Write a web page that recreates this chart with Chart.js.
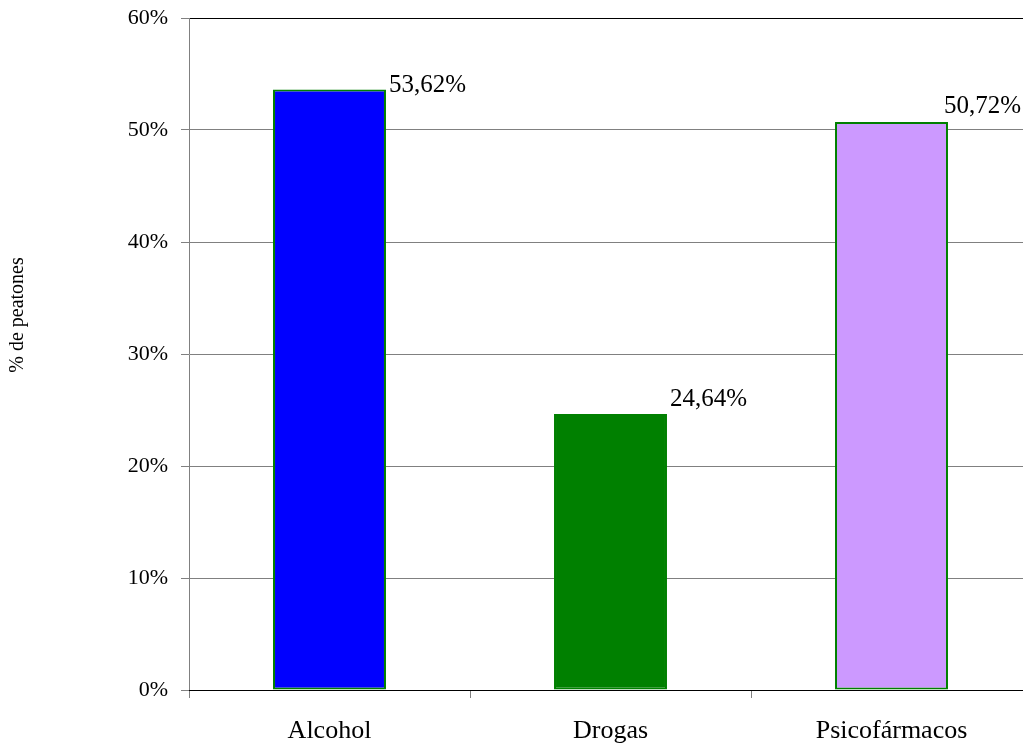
<!DOCTYPE html>
<html>
<head>
<meta charset="utf-8">
<script src="https://cdn.jsdelivr.net/npm/chart.js@4/dist/chart.umd.min.js"></script>
<style>
    html, body { margin: 0; padding: 0; background: #ffffff; overflow: hidden; }
    #wrap { width: 1032px; height: 746px; }
</style>
</head>
<body>
<div id="wrap"><canvas id="chart"></canvas></div>
<script>
// Datos del gráfico
const categorias = ['Alcohol', 'Drogas', 'Psicofármacos'];
const porcentajes = [53.62, 24.64, 50.72];
const coloresBarras = ['#0000ff', '#008000', '#cc99ff'];
const ticksY = [0, 10, 20, 30, 40, 50, 60];

const serif = '"Liberation Serif", "Times New Roman", serif';

function formatoPct(v) {
    return v.toFixed(2).replace('.', ',') + '%';
}

// Etiquetas de valor junto a cada barra
const etiquetasPlugin = {
    id: 'etiquetas',
    afterDatasetsDraw(chart) {
        const ctx = chart.ctx;
        const meta = chart.getDatasetMeta(0);
        const limite = Math.min(window.innerWidth, chart.width);
        ctx.save();
        ctx.font = '25px ' + serif;
        ctx.fillStyle = '#000000';
        ctx.textBaseline = 'middle';
        ctx.textAlign = 'left';
        meta.data.forEach((bar, i) => {
            const texto = formatoPct(porcentajes[i]);
            const w = ctx.measureText(texto).width;
            let x = bar.x + bar.width / 2 + 3;
            x = Math.min(x, limite - 2 - w);
            let y = Math.max(bar.y - 15, chart.chartArea.top + 67);
            ctx.fillText(texto, x, y);
        });
        ctx.restore();
    }
};

// Título del eje Y (desplazado como en el original)
const tituloEjePlugin = {
    id: 'tituloEje',
    afterDraw(chart) {
        const ctx = chart.ctx;
        ctx.save();
        ctx.font = '20px ' + serif;
        ctx.fillStyle = '#000000';
        ctx.textAlign = 'center';
        ctx.textBaseline = 'middle';
        ctx.translate(18, 315);
        ctx.rotate(-Math.PI / 2);
        ctx.fillText('% de peatones', 0, 0);
        ctx.restore();
    }
};

const ctx = document.getElementById('chart').getContext('2d');
new Chart(ctx, {
    type: 'bar',
    data: {
        labels: categorias,
        datasets: [{
            data: porcentajes,
            backgroundColor: coloresBarras,
            borderColor: '#008000',
            borderWidth: 2,
            borderSkipped: false,
            barPercentage: 0.402,
            categoryPercentage: 1
        }]
    },
    options: {
        responsive: true,
        maintainAspectRatio: false,
        animation: false,
        layout: { padding: { top: 18, right: 0, left: 0, bottom: 0 } },
        plugins: {
            legend: { display: false },
            tooltip: { enabled: false }
        },
        scales: {
            y: {
                min: 0,
                max: 60,
                afterBuildTicks(scale) {
                    scale.ticks = ticksY.map(v => ({ value: v }));
                },
                afterFit(scale) {
                    scale.width = 189;
                    scale.paddingTop = 0;
                    scale.paddingBottom = 0;
                },
                border: { color: '#808080', width: 1 },
                grid: {
                    color: c => (c.tick && (c.tick.value === 60 || c.tick.value === 0)) ? '#000000' : '#808080',
                    tickColor: '#808080',
                    tickLength: 8,
                    lineWidth: 1
                },
                ticks: {
                    color: '#000000',
                    padding: 13,
                    font: { family: serif, size: 22 },
                    callback: v => v + '%'
                }
            },
            x: {
                afterFit(scale) {
                    scale.height = 56;
                    scale.paddingLeft = 0;
                    scale.paddingRight = 0;
                },
                border: { color: '#000000', width: 1 },
                grid: {
                    offset: true,
                    drawOnChartArea: false,
                    drawTicks: true,
                    tickLength: 8,
                    color: '#808080'
                },
                ticks: {
                    color: '#000000',
                    padding: 18,
                    font: { family: serif, size: 26 }
                }
            }
        }
    },
    plugins: [etiquetasPlugin, tituloEjePlugin]
});
</script>
</body>
</html>
